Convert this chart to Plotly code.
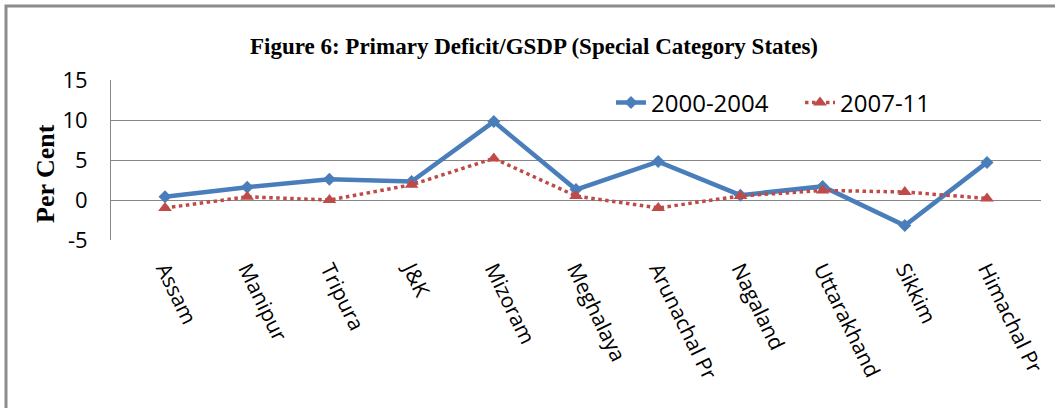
import plotly.graph_objects as go

# Special category states and primary deficit as a share of GSDP (per cent)
states = ["Assam", "Manipur", "Tripura", "J&K", "Mizoram", "Meghalaya",
          "Arunachal Pr", "Nagaland", "Uttarakhand", "Sikkim", "Himachal Pr"]
pd_2000_2004 = [0.4, 1.6, 2.6, 2.3, 9.8, 1.3, 4.8, 0.6, 1.7, -3.2, 4.7]
pd_2007_11 = [-1.0, 0.4, 0.0, 1.9, 5.2, 0.5, -1.0, 0.5, 1.2, 1.0, 0.2]

y_ticks = [-5, 0, 5, 10, 15]

BLUE = "#4A7EBB"
RED = "#BE4B48"
GRID = "#878787"

# plot-area geometry in pixels
W, H = 1055, 408
L, R, T, B = 111, 14, 80, 168
pw, ph = W - L - R, H - T - B


def px_x(x):
    return (x - L) / pw


def px_y(y):
    return (H - B - y) / ph


fig = go.Figure()
fig.add_trace(go.Scatter(
    x=states, y=pd_2000_2004, name="2000-2004", mode="lines+markers",
    line=dict(color=BLUE, width=4.5),
    marker=dict(symbol="diamond", size=10, color=BLUE),
    legend="legend",
))
fig.add_trace(go.Scatter(
    x=states, y=pd_2007_11, name="2007-11", mode="lines+markers",
    line=dict(color=RED, width=3.5, dash="dot"),
    marker=dict(symbol="triangle-up", size=12, color=RED),
    legend="legend2",
))

legend_font = dict(family="Open Sans", size=24, color="#000000")

fig.update_layout(
    width=W, height=H,
    margin=dict(l=L, r=R, t=T, b=B, autoexpand=False),
    paper_bgcolor="white", plot_bgcolor="white",
    font=dict(family="Open Sans", color="#000000"),
    title=dict(
        text="Figure 6: Primary Deficit/GSDP (Special Category States)",
        font=dict(family="Liberation Serif", size=23, color="#000000",
                  weight="bold"),
        x=534 / W, xanchor="center", y=1 - 46 / H, yanchor="middle",
    ),
    showlegend=True,
    legend=dict(
        orientation="h", x=px_x(611), y=px_y(103), xanchor="left",
        yanchor="middle", bgcolor="rgba(0,0,0,0)", font=legend_font,
        itemwidth=30,
    ),
    legend2=dict(
        orientation="h", x=px_x(800), y=px_y(103), xanchor="left",
        yanchor="middle", bgcolor="rgba(0,0,0,0)", font=legend_font,
        itemwidth=30,
    ),
)

fig.update_xaxes(
    showgrid=False, showline=False, zeroline=False,
    tickangle=64, tickfont=dict(family="Open Sans", size=21, color="#000000"),
    ticklabelstandoff=12,
)
fig.update_yaxes(
    range=[-5, 15], tickvals=y_ticks, ticktext=[str(v) for v in y_ticks],
    showgrid=True, gridcolor=GRID, gridwidth=1,
    zeroline=False, showline=True, linecolor=GRID, linewidth=1,
    tickfont=dict(family="Open Sans", size=22, color="#000000"),
    ticklabelstandoff=18,
)

# y-axis caption
fig.add_annotation(
    text="Per Cent", xref="paper", yref="paper",
    x=px_x(45), y=px_y(174), textangle=-90, showarrow=False,
    font=dict(family="Liberation Serif", size=26, color="#000000",
              weight="bold"),
    xanchor="center", yanchor="middle",
)

# outer chart frame
fig.add_shape(
    type="rect", xref="paper", yref="paper",
    x0=px_x(6), y0=px_y(460), x1=px_x(1070), y1=px_y(6),
    line=dict(color="#8C8C8C", width=3), fillcolor="rgba(0,0,0,0)",
    layer="below",
)

fig.write_html("out.html")
